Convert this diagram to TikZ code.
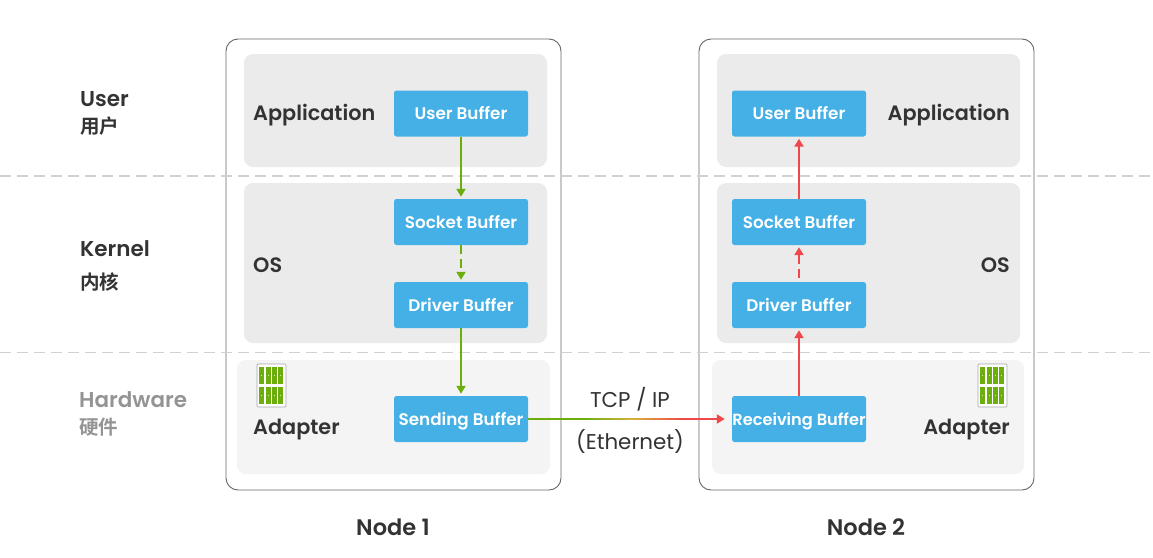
\documentclass[tikz,border=0pt]{standalone}
\usepackage{fontspec}
\setmainfont{Poppins}[BoldFont={Poppins SemiBold}]
\newfontfamily\cjkbold{Noto Sans CJK SC Bold}
\usetikzlibrary{arrows.meta}
\definecolor{bufblue}{HTML}{45B0E5}
\definecolor{linegreen}{HTML}{6CAF0C}
\definecolor{linered}{HTML}{F04848}
\definecolor{linemid}{HTML}{D8B040}
\definecolor{inkdark}{HTML}{333333}
\tikzset{
  nodebox/.style={draw=black!60,line width=0.9pt,fill=white,rounded corners=12pt},
  panel/.style={fill=black!8,rounded corners=9pt},
  hwpanel/.style={fill=black!4.5,rounded corners=9pt},
  buffer/.style={fill=bufblue,rounded corners=2.5pt,minimum width=134pt,minimum height=46pt,inner sep=0pt,text=white,text height=16pt,text depth=3.5pt,font=\bfseries\fontsize{16.8}{16.8}\selectfont},
  layer/.style={anchor=west,inner sep=0pt,text=inkdark,font=\bfseries\fontsize{20.8}{20.8}\selectfont},
  rowlabel/.style={anchor=west,inner sep=0pt,text=inkdark,font=\bfseries\fontsize{21.5}{21.5}\selectfont},
  caplabel/.style={inner sep=0pt,text=inkdark,font=\bfseries\fontsize{22.5}{22.5}\selectfont},
  rowcjk/.style={anchor=west,inner sep=0pt,text=inkdark,font=\cjkbold\fontsize{19.5}{19.5}\selectfont},
  plainlabel/.style={inner sep=0pt,text=inkdark,font=\fontsize{21.4}{21.4}\selectfont},
  sep/.style={draw=black!18,line width=1.4pt,dash pattern=on 11pt off 6pt},
  flow/.style={line width=2pt,-{Triangle[length=8pt,width=9pt]},shorten >=2pt},
  flowup/.style={line width=2pt,{Triangle[length=8pt,width=9pt]}-,shorten <=2pt},
  adapter/.pic={
    \draw[black!35,fill=white,rounded corners=1pt,line width=0.7pt] (0,0) rectangle (29,43);
    \foreach \sx in {2,8.5,15,21.2} {
      \foreach \sy in {3,23} {
        \fill[linegreen] (\sx,\sy) rectangle ++(5.2,17);
        \fill[white!70!linegreen] (\sx+2.1,\sy+8) rectangle ++(1,1);
      }
    }
  }
}
\begin{document}
\begin{tikzpicture}[x=1pt,y=-1pt]
  \useasboundingbox (0,0) rectangle (1153,557);
  % frames of the two machines
  \draw[nodebox] (226,39) rectangle (561,490);
  \draw[nodebox] (699,39) rectangle (1034,490);
  \coordinate (sepa0) at (0,176);
  \coordinate (sepa1) at (1153,176);
  \coordinate (sepb0) at (0,352.5);
  \coordinate (sepb1) at (1153,352.5);
  \draw[sep] (sepa0) to (sepa1);
  \draw[sep] (sepb0) to (sepb1);
  \fill[panel] (244,54) rectangle (547,167);
  \fill[panel] (244,183) rectangle (547,343);
  \fill[hwpanel] (237,360) rectangle (550,474);
  \fill[panel] (717,54) rectangle (1020,167);
  \fill[panel] (717,183) rectangle (1020,343);
  \fill[hwpanel] (712,360) rectangle (1024,474);
  % left column
  \node[rowlabel] (user) at (80,99) {User};
  \node[rowcjk] (usercn) at (80,126) {用户};
  \node[rowlabel] (kernel) at (80,249) {Kernel};
  \node[rowcjk] (kernelcn) at (80,282) {内核};
  \node[rowlabel,text=black!42] (hardware) at (79,399.5) {Hardware};
  \node[rowcjk,text=black!42] (hardwarecn) at (79,427) {硬件};
  % node 1
  \node[layer] (app1) at (253,115.5) {Application};
  \node[layer] (os1) at (253,265) {OS};
  \node[layer] (adapter1) at (253,430) {Adapter};
  \node[buffer] (user1) at (461,113.5) {User Buffer};
  \node[buffer] (socket1) at (461,222) {Socket Buffer};
  \node[buffer] (driver1) at (461,305) {Driver Buffer};
  \node[buffer] (send1) at (461,419) {Sending Buffer};
  \pic at (257,364) {adapter};
  % node 2
  \node[layer,anchor=east] (app2) at (1010,115.5) {Application};
  \node[layer,anchor=east] (os2) at (1010,265) {OS};
  \node[layer,anchor=east] (adapter2) at (1010,430) {Adapter};
  \node[buffer] (user2) at (799,113.5) {User Buffer};
  \node[buffer] (socket2) at (799,222) {Socket Buffer};
  \node[buffer] (driver2) at (799,305) {Driver Buffer};
  \node[buffer,font=\bfseries\fontsize{16.2}{16.2}\selectfont] (recv2) at (799,419) {Receiving Buffer};
  \pic at (978,364) {adapter};
  % captions
  \node[caplabel] (cap1) at (393,527) {Node 1};
  \node[caplabel] (cap2) at (866,527) {Node 2};
  \node[plainlabel] (tcp) at (630,399.5) {TCP / IP};
  \node[plainlabel] (eth) at (630,441) {(Ethernet)};
  % connectors
  \draw[flow,linegreen] (user1) to (socket1);
  \draw[flow,linegreen,dash pattern=on 9pt off 5pt] (socket1) to (driver1);
  \draw[flow,linegreen] (driver1) to (send1);
  \draw[flowup,linered] (driver2) to (recv2);
  \draw[flowup,linered,dash pattern=on 9pt off 5pt] (socket2) to (driver2);
  \draw[flowup,linered] (user2) to (socket2);
  \coordinate (fade0) at (585,419);
  \coordinate (fade1) at (685,419);
  \draw[linegreen,line width=2pt] (send1) to (fade0);
  \foreach \p in {5,10,...,100} {
    \draw[linemid!\p!linegreen,line width=2pt] (585+\p*0.5-2.5,419) -- ++(2.6,0);
    \draw[linered!\p!linemid,line width=2pt] (635+\p*0.5-2.5,419) -- ++(2.6,0);
  }
  \draw[flow,linered,shorten >=7pt] (fade1) to (recv2);
\end{tikzpicture}
\end{document}
